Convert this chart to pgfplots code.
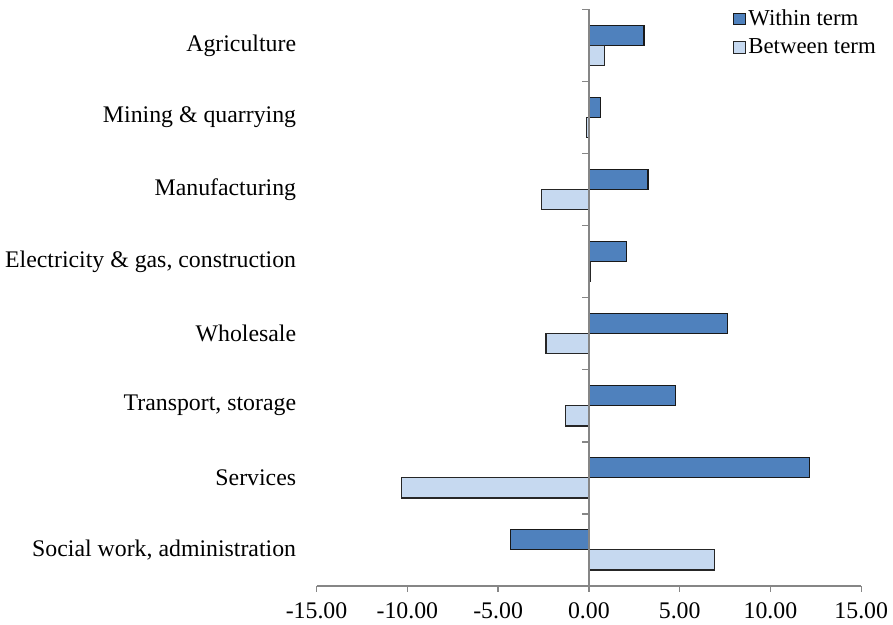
\documentclass[border=0pt]{standalone}
\usepackage{pgfplots}
\pgfplotsset{compat=1.18}
\usepackage{fontspec}
\setmainfont{Liberation Serif}
\definecolor{within}{HTML}{4F81BD}
\definecolor{between}{HTML}{C6D9F0}
\definecolor{axgray}{HTML}{868686}
\begin{document}
\begin{tikzpicture}
\fontsize{12}{14.4}\selectfont
\begin{axis}[
  scale only axis,
  width=274.5pt, height=290.5pt,
  xmin=-15, xmax=15,
  ymin=-0.5, ymax=7.5,
  xtick={-15,-10,...,15},
  ytick={0,...,7},
  yticklabels={{Social work, administration},Services,{Transport, storage},Wholesale,{Electricity \& gas, construction},Manufacturing,Mining \& quarrying,Agriculture},
  axis x line*=bottom, axis y line*=left,
  y axis line style={draw=none},
  x axis line style={axgray, line width=0.75pt},
  xtick style={axgray, line width=0.75pt},
  ytick style={draw=none},
  tick align=outside,
  major tick length=3pt,
  /pgf/number format/assume math mode=true,
  tick label style={font=\fontsize{12}{14.4}\selectfont, inner sep=1pt},
  yticklabel style={anchor=east, xshift=-6.1pt},
  xticklabel style={yshift=-4.5pt, /pgf/number format/.cd, fixed, fixed zerofill, precision=2},
  xbar, bar width=0.28,
  clip=false,
  legend style={draw=none, fill=none, at={(rel axis cs:0.764,1.005)}, anchor=north west,
    font=\fontsize{11.5}{13}\selectfont, row sep=2.5pt, inner sep=0pt,
    nodes={inner sep=1.2pt}},
  legend cell align=left,
  legend image code/.code={\draw[#1, line width=0.5pt] (0pt,-3pt) rectangle (6pt,3pt);},
]
% Within term
\addplot[fill=within, draw=black!90, line width=0.65pt, bar shift=0.14] coordinates {
  (3.04,7) (0.63,6) (3.26,5) (2.08,4) (7.65,3) (4.77,2) (12.15,1) (-4.32,0)};
% Between term
\addplot[fill=between, draw=black!85, line width=0.65pt, bar shift=-0.14] coordinates {
  (0.85,7) (-0.15,6) (-2.62,5) (0.09,4) (-2.37,3) (-1.29,2) (-10.33,1) (6.9,0)};
\legend{Within term, Between term}
\draw[axgray, line width=0.75pt] (axis cs:0,-0.5) -- (axis cs:0,7.5);
\pgfplotsinvokeforeach{-0.5,0.5,1.5,2.5,3.5,4.5,5.5,6.5,7.5}{
  \draw[axgray, line width=0.75pt] (axis cs:0,#1) -- ++(-3.5pt,0pt);
}
\end{axis}
\path (current bounding box.south west) ++(-1.6pt,-1.5pt);
\path (current bounding box.north east) ++(1.5pt,3.5pt);
\end{tikzpicture}
\end{document}
